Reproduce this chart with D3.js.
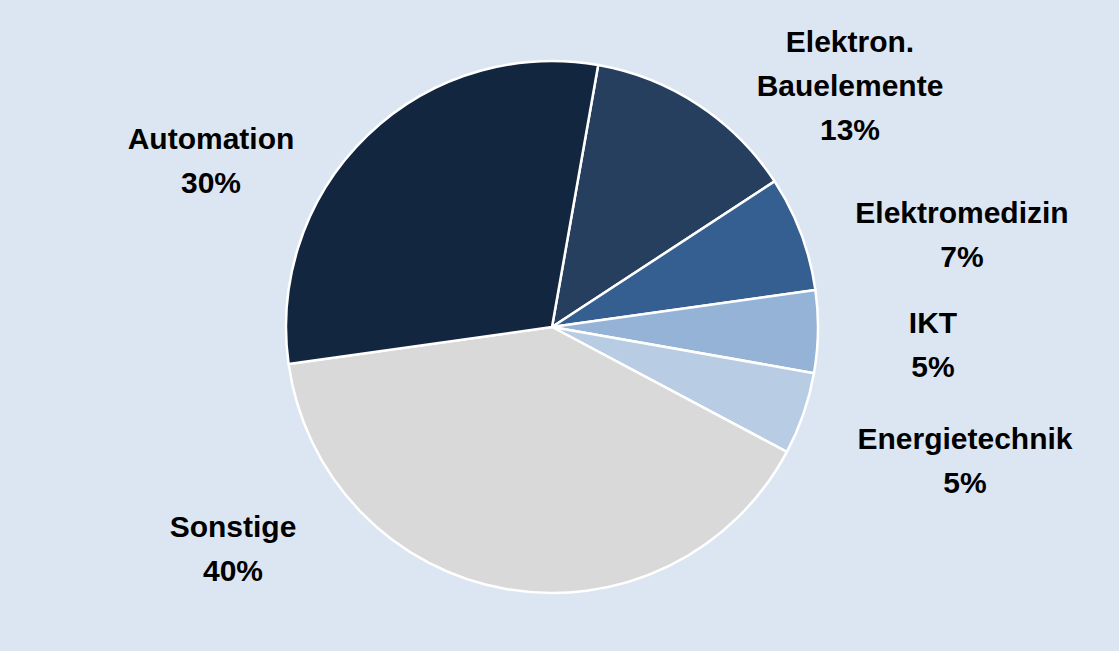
<!DOCTYPE html>
<html>
<head>
<meta charset="utf-8">
<script src="https://cdn.jsdelivr.net/npm/d3@7"></script>
<style>
  body { margin: 0; background: #dce6f2; }
  svg { display: block; }
</style>
</head>
<body>
<svg id="chart" width="1119" height="651"></svg>
<script>
// chart data
var categories = ["Elektron. Bauelemente", "Elektromedizin", "IKT", "Energietechnik", "Sonstige", "Automation"];
var shares = [13, 7, 5, 5, 40, 30];
var labelLines = [["Elektron.", "Bauelemente", "13%"], ["Elektromedizin", "7%"], ["IKT", "5%"], ["Energietechnik", "5%"], ["Sonstige", "40%"], ["Automation", "30%"]];
var colors = ["#263f5f", "#365f91", "#95b3d7", "#b8cce4", "#d9d9d9", "#12263f"];

// label anchor (x, first baseline y) per slice
var labelPos = [[850, 52], [962, 223], [933, 333], [965, 449], [233, 537], [211, 149]];

var svg = d3.select("#chart");
svg.append("rect").attr("width", 1119).attr("height", 651).attr("fill", "#dce6f2");

var cx = 552, cy = 327, r = 266;
var startA = 10 * Math.PI / 180;

var pie = d3.pie().sort(null).value(function (d) { return d; })
  .startAngle(startA).endAngle(startA + 2 * Math.PI);
var arc = d3.arc().innerRadius(0).outerRadius(r);

var g = svg.append("g").attr("transform", "translate(" + cx + "," + cy + ")");
g.selectAll("path").data(pie(shares)).enter().append("path")
  .attr("d", arc)
  .attr("fill", function (d, i) { return colors[i]; })
  .attr("stroke", "#ffffff")
  .attr("stroke-width", 2.5)
  .attr("stroke-linejoin", "round");

labelLines.forEach(function (lines, i) {
  var t = svg.append("text")
    .attr("x", labelPos[i][0])
    .attr("y", labelPos[i][1])
    .attr("text-anchor", "middle")
    .attr("font-family", "Liberation Sans, Arial, sans-serif")
    .attr("font-weight", "bold")
    .attr("font-size", 30)
    .attr("fill", "#000");
  lines.forEach(function (s, j) {
    t.append("tspan").attr("x", labelPos[i][0]).attr("dy", j == 0 ? 0 : 44).text(s);
  });
});
</script>
</body>
</html>
